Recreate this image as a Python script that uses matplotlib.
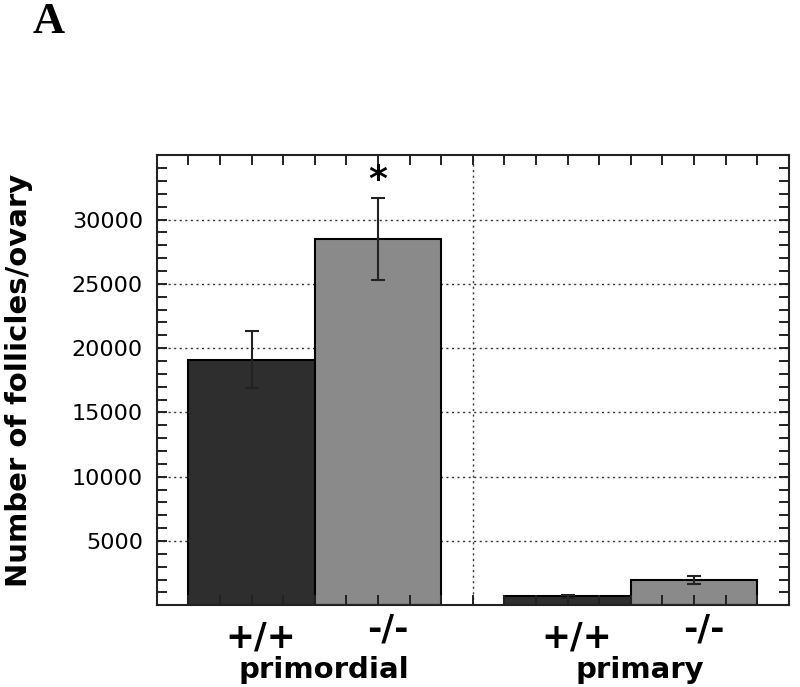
import matplotlib.pyplot as plt
from matplotlib.ticker import MultipleLocator, FixedLocator, NullFormatter

# data
groups = ["primordial", "primary"]
genotypes = ["+/+", "-/-"]
means = [19100, 28500, 700, 1950]
errors = [2200, 3200, 100, 300]
bar_colors = ["#2e2e2e", "#8a8a8a", "#2e2e2e", "#8a8a8a"]

# bar placement on the 0-20 x scale
bar_left = [1, 5, 11, 15]
bar_width = 4
centers = [l + bar_width / 2 for l in bar_left]
group_centers = [5, 15]

fig = plt.figure(figsize=(8, 6.87), dpi=100)
ax = fig.add_axes([0.196, 0.119, 0.79, 0.655])
ax.set_axisbelow(False)

# dotted grid behind the bars
for yv in range(5000, 35000, 5000):
    ax.axhline(yv, color="#333333", linestyle=(0, (1.5, 2.5)), linewidth=1.0, zorder=0)
ax.axvline(10, color="#333333", linestyle=(0, (1.5, 2.5)), linewidth=1.0, zorder=0)

ax.bar(bar_left, means, width=bar_width, align="edge", color=bar_colors,
       edgecolor="black", linewidth=1.5, zorder=2)
ax.errorbar(centers, means, yerr=errors, fmt="none", ecolor="#222222",
            elinewidth=1.5, capsize=5, capthick=1.5, zorder=3)

# significance marker
ax.text(centers[1], means[1] + errors[1] + 1400, "*", ha="center", va="center",
        fontsize=26, fontweight="bold", family="DejaVu Sans")

ax.set_xlim(0, 20)
ax.set_ylim(0, 35000)

ax.xaxis.set_major_locator(FixedLocator(range(1, 20)))
ax.xaxis.set_major_formatter(NullFormatter())
ax.yaxis.set_major_locator(FixedLocator(range(5000, 35000, 5000)))
ax.yaxis.set_minor_locator(MultipleLocator(1000))
ax.tick_params(axis="both", which="both", direction="in", length=7, width=1.4,
               top=True, right=True, color="#222222", zorder=4)
ax.tick_params(axis="y", which="major", labelsize=16, pad=10)
for lbl in ax.get_yticklabels():
    lbl.set_family("DejaVu Sans")

for sp in ax.spines.values():
    sp.set_linewidth(1.5)
    sp.set_color("#222222")

fig.text(0.024, 0.447, "Number of follicles/ovary", rotation=90, ha="center",
         va="center", fontsize=21, fontweight="bold", family="DejaVu Sans")

# genotype and group labels under the axis (scan is slightly skewed right)
shift = 0.3
for i, c in enumerate(centers):
    g = genotypes[i % 2]
    ax.text(c + shift, -2500 if g == "+/+" else -1900, g, ha="center", va="center",
            fontsize=25, fontweight="bold", family="DejaVu Sans", clip_on=False)
for name, gc in zip(groups, group_centers):
    ax.text(gc + shift, -5000, name, ha="center", va="center", fontsize=21,
            fontweight="bold", family="DejaVu Sans", clip_on=False)

fig.text(0.041, 0.997, "A", ha="left", va="top", fontsize=32, fontweight="bold",
         family="Liberation Serif")

fig.savefig("out.png", dpi=100)
